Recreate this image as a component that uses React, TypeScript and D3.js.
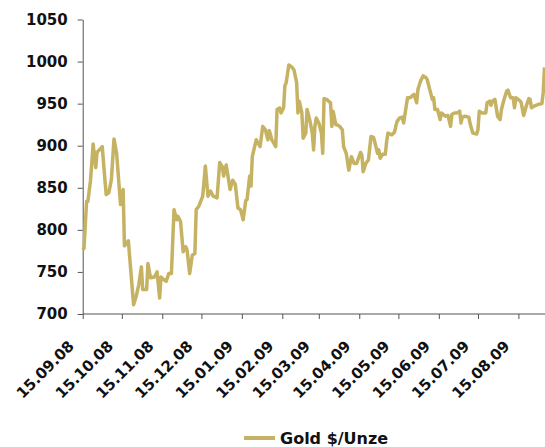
import React, { useEffect, useRef } from 'react';
import * as d3 from 'd3';

// Gold price, $ per ounce
const dates = [
  '15.09.08', '16.09.08', '18.09.08', '19.09.08', '21.09.08', '23.09.08', '25.09.08', '26.09.08', '30.09.08',
  '01.10.08', '03.10.08', '05.10.08', '07.10.08', '09.10.08', '11.10.08', '14.10.08', '16.10.08', '17.10.08',
  '20.10.08', '24.10.08', '26.10.08', '28.10.08', '30.10.08', '31.10.08',
  '03.11.08', '04.11.08', '06.11.08', '09.11.08', '11.11.08', '13.11.08', '14.11.08', '16.11.08', '18.11.08',
  '20.11.08', '22.11.08', '24.11.08', '26.11.08', '27.11.08', '29.11.08',
  '01.12.08', '03.12.08', '04.12.08', '06.12.08', '08.12.08', '10.12.08', '11.12.08', '13.12.08', '16.12.08',
  '18.12.08', '20.12.08', '22.12.08', '24.12.08', '27.12.08', '29.12.08', '31.12.08',
  '01.01.09', '03.01.09', '06.01.09', '08.01.09', '10.01.09', '12.01.09', '14.01.09', '16.01.09', '18.01.09',
  '19.01.09', '21.01.09', '22.01.09', '23.01.09', '26.01.09', '29.01.09', '31.01.09',
  '02.02.09', '04.02.09', '05.02.09', '07.02.09', '10.02.09', '11.02.09', '13.02.09', '14.02.09', '16.02.09',
  '17.02.09', '18.02.09', '20.02.09', '22.02.09', '24.02.09', '26.02.09', '27.02.09', '28.02.09',
  '02.03.09', '03.03.09', '05.03.09', '06.03.09', '08.03.09', '10.03.09', '11.03.09', '12.03.09', '13.03.09',
  '15.03.09', '17.03.09', '18.03.09', '19.03.09', '21.03.09', '24.03.09', '25.03.09', '26.03.09', '28.03.09',
  '29.03.09', '31.03.09',
  '02.04.09', '03.04.09', '05.04.09', '07.04.09', '09.04.09', '11.04.09', '13.04.09', '16.04.09', '17.04.09',
  '18.04.09', '20.04.09', '22.04.09', '24.04.09', '26.04.09', '29.04.09', '30.04.09',
  '01.05.09', '03.05.09', '05.05.09', '06.05.09', '07.05.09', '10.05.09', '12.05.09', '13.05.09', '14.05.09',
  '16.05.09', '18.05.09', '19.05.09', '22.05.09', '24.05.09', '26.05.09', '27.05.09', '29.05.09', '30.05.09',
  '01.06.09', '03.06.09', '05.06.09', '06.06.09', '08.06.09', '10.06.09', '11.06.09', '12.06.09', '14.06.09',
  '16.06.09', '17.06.09', '20.06.09', '22.06.09', '24.06.09', '25.06.09', '27.06.09', '29.06.09',
  '01.07.09', '02.07.09', '03.07.09', '05.07.09', '08.07.09', '09.07.09', '11.07.09', '14.07.09', '15.07.09',
  '16.07.09', '18.07.09', '21.07.09', '22.07.09', '24.07.09', '25.07.09', '26.07.09', '28.07.09', '30.07.09',
  '01.08.09', '02.08.09', '04.08.09', '06.08.09', '07.08.09', '09.08.09', '11.08.09', '12.08.09', '13.08.09',
  '15.08.09', '17.08.09', '19.08.09', '21.08.09', '23.08.09', '24.08.09', '25.08.09', '27.08.09', '30.08.09',
  '02.09.09', '03.09.09', '04.09.09'
];

const prices = [
  776, 778, 834, 834, 859, 902, 874, 892, 899,
  879, 842, 844, 860, 908, 891, 830, 848, 781,
  787, 711, 721, 735, 756, 729,
  729, 760, 743, 744, 750, 719, 744, 741, 739,
  748, 748, 824, 812, 816, 810,
  774, 780, 776, 748, 770, 772, 824, 828, 840,
  876, 840, 846, 840, 838, 880, 875,
  864, 877, 848, 859, 854, 826, 824, 812, 835,
  836, 864, 852, 887, 907, 899, 923,
  919, 907, 918, 907, 899, 943, 945, 939, 945,
  971, 975, 996, 994, 990, 975, 939, 953,
  939, 909, 915, 943, 931, 915, 895, 923, 933,
  927, 915, 891, 956, 955, 951, 923, 941, 925,
  925, 923,
  919, 899, 891, 871, 887, 879, 879, 892, 889,
  869, 879, 883, 911, 910, 891, 895,
  885, 890, 890, 905, 915, 913, 916, 923, 929,
  933, 934, 927, 957, 957, 960, 961, 951, 967,
  977, 983, 981, 979, 967, 955, 957, 943, 943,
  931, 939, 935, 936, 923, 937, 939, 939,
  941, 927, 934, 935, 934, 926, 915, 914, 919,
  941, 939, 939, 951, 953, 948, 953, 955, 935,
  931, 943, 955, 965, 966, 957, 957, 945, 957,
  955, 952, 936, 947, 956, 955, 945, 947, 949,
  950, 963, 993
];

const tickLabels = [
  '15.09.08', '15.10.08', '15.11.08', '15.12.08', '15.01.09', '15.02.09',
  '15.03.09', '15.04.09', '15.05.09', '15.06.09', '15.07.09', '15.08.09'
];
const yTicks = [700, 750, 800, 850, 900, 950, 1000, 1050];
const seriesName = 'Gold $/Unze';

const GoldChart = () => {
  const svgRef = useRef(null);

  useEffect(() => {
    const width = 545;
    const height = 447;
    const left = 82.7;
    const right = 544.5;
    const top = 19.5;
    const bottom = 314;
    const gold = '#c6b263';
    const axisColor = '#555';
    const font = '"DejaVu Sans", sans-serif';

    const parse = d3.timeParse('%d.%m.%y');
    const data = dates.map((d, i) => ({ date: parse(d)!, value: prices[i] }));

    d3.select(svgRef.current).selectAll('*').remove();
    const svg = d3.select(svgRef.current)
      .attr('width', width)
      .attr('height', height);

    const x = d3.scaleTime()
      .domain([parse('15.09.08')!, parse('04.09.09')!])
      .range([left, right]);

    const y = d3.scaleLinear()
      .domain([700, 1050])
      .range([bottom, top]);

    // Y axis
    const yAxis = svg.append('g')
      .attr('transform', `translate(${left},0)`)
      .call(d3.axisLeft(y).tickValues(yTicks).tickFormat(d3.format('d')).tickSize(5).tickPadding(10).tickSizeOuter(0));
    yAxis.select('.domain').attr('stroke', axisColor);
    yAxis.selectAll('line').attr('stroke', axisColor);
    yAxis.selectAll('text')
      .attr('fill', '#111')
      .style('font-family', font)
      .style('font-weight', 'bold')
      .style('font-size', '15px');

    // X axis
    const tickDates = tickLabels.map(t => parse(t)!);
    const xAxis = svg.append('g')
      .attr('transform', `translate(0,${bottom})`)
      .call(d3.axisBottom(x).tickValues(tickDates).tickSize(5).tickSizeOuter(0).tickFormat(() => ''));
    xAxis.select('.domain').attr('stroke', axisColor).attr('d', `M${left},0H${width}`);
    xAxis.selectAll('line').attr('stroke', axisColor);

    svg.append('g')
      .selectAll('text')
      .data(tickDates)
      .join('text')
      .attr('transform', d => `translate(${x(d) - 7.7},${bottom + 33}) rotate(-45)`)
      .attr('text-anchor', 'end')
      .attr('fill', '#111')
      .style('font-family', font)
      .style('font-weight', 'bold')
      .style('font-size', '15px')
      .text((d, i) => tickLabels[i]);

    // Line
    const line = d3.line<{ date: Date; value: number }>()
      .x(d => x(d.date))
      .y(d => y(d.value));

    svg.append('path')
      .datum(data)
      .attr('d', line)
      .attr('fill', 'none')
      .attr('stroke', gold)
      .attr('stroke-width', 3.5)
      .attr('stroke-linejoin', 'round');

    // Legend
    const legend = svg.append('g').attr('transform', 'translate(244,438)');
    legend.append('line')
      .attr('x1', 0).attr('x2', 31)
      .attr('y1', 0).attr('y2', 0)
      .attr('stroke', gold)
      .attr('stroke-width', 4);
    legend.append('text')
      .attr('x', 36)
      .attr('y', 6.3)
      .attr('fill', '#111')
      .style('font-family', font)
      .style('font-weight', 'bold')
      .style('font-size', '16px')
      .text(seriesName);
  }, []);

  return (
    <div style={{ position: 'absolute', left: 0, top: 0 }}>
      <svg ref={svgRef} style={{ display: 'block' }}></svg>
    </div>
  );
};

export default function App() {
  return <GoldChart />;
}
